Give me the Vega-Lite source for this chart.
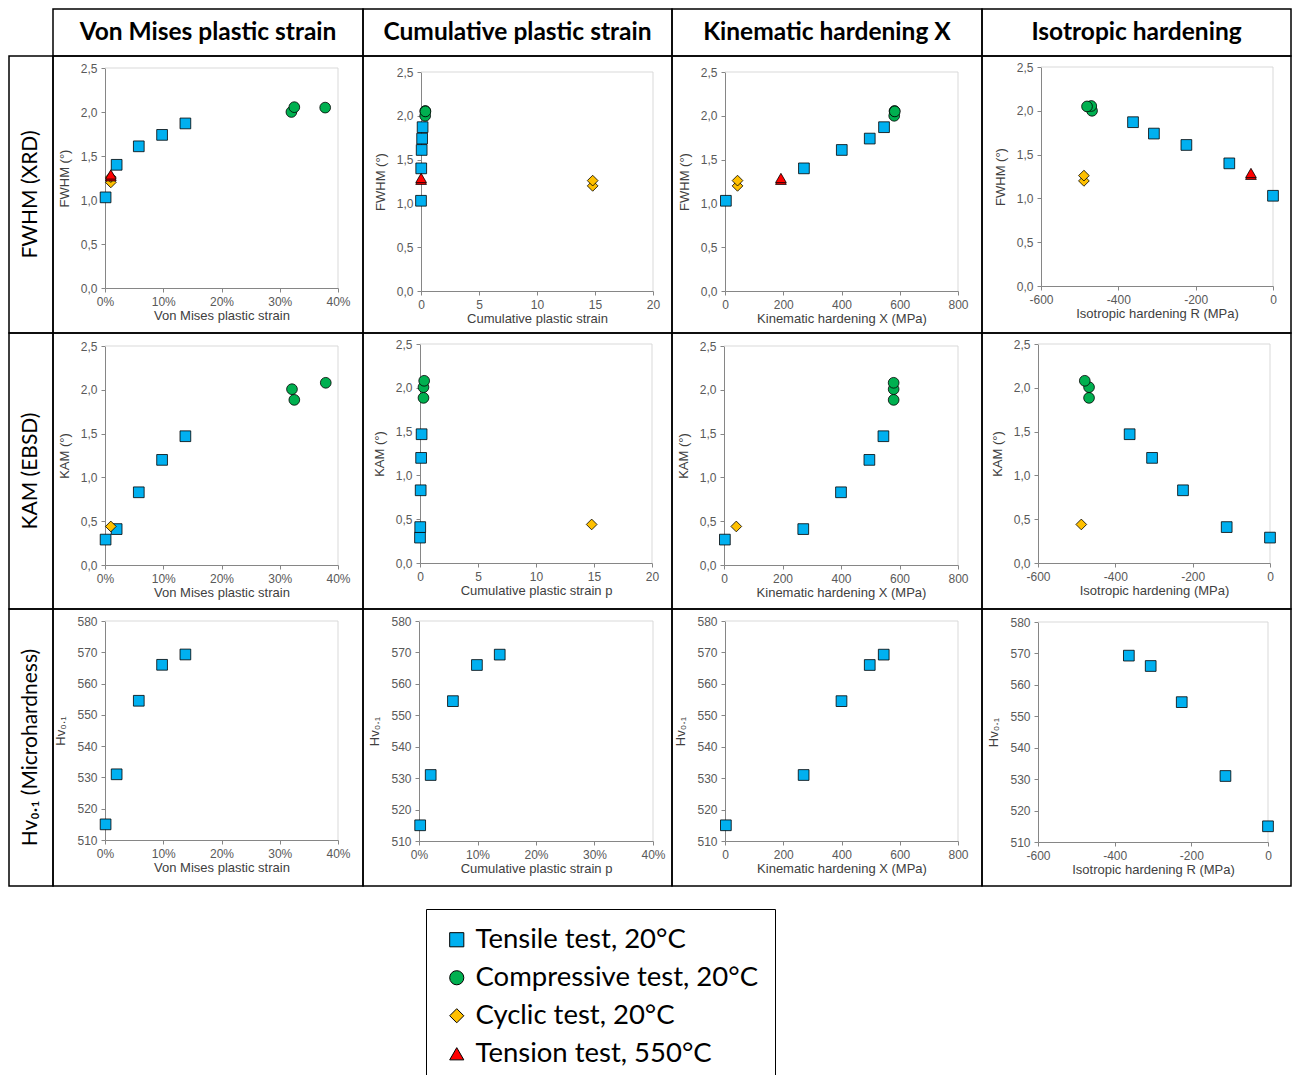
{
  "$schema": "https://vega.github.io/schema/vega-lite/v6.json",
  "background": "white",
  "padding": {"left": 8, "top": 8, "right": 0, "bottom": 0},
  "datasets": {
    "fwhm": [
      {"test": "Tensile test, 20°C", "vm": 0.001, "p": 0.001, "X": 3, "R": 0, "v": 1.03},
      {"test": "Tensile test, 20°C", "vm": 0.02, "p": 0.02, "X": 271, "R": -113, "v": 1.40},
      {"test": "Tensile test, 20°C", "vm": 0.058, "p": 0.058, "X": 401, "R": -224, "v": 1.61},
      {"test": "Tensile test, 20°C", "vm": 0.098, "p": 0.098, "X": 497, "R": -308, "v": 1.74},
      {"test": "Tensile test, 20°C", "vm": 0.138, "p": 0.138, "X": 546, "R": -362, "v": 1.87},
      {"test": "Compressive test, 20°C", "vm": 0.32, "p": 0.36, "X": 581, "R": -468, "v": 2.0},
      {"test": "Compressive test, 20°C", "vm": 0.325, "p": 0.37, "X": 582, "R": -470, "v": 2.055},
      {"test": "Compressive test, 20°C", "vm": 0.378, "p": 0.38, "X": 583, "R": -481, "v": 2.05},
      {"test": "Cyclic test, 20°C", "vm": 0.01, "p": 14.8, "X": 43, "R": -489, "v": 1.2},
      {"test": "Cyclic test, 20°C", "vm": 0.01, "p": 14.8, "X": 43, "R": -489, "v": 1.26},
      {"test": "Tension test, 550°C", "vm": 0.01, "p": 0.01, "X": 192, "R": -57, "v": 1.27},
      {"test": "Tension test, 550°C", "vm": 0.01, "p": 0.01, "X": 192, "R": -57, "v": 1.29}
    ],
    "kam": [
      {"test": "Tensile test, 20°C", "vm": 0.001, "p": 0.001, "X": 3, "R": 0, "v": 0.29},
      {"test": "Tensile test, 20°C", "vm": 0.02, "p": 0.02, "X": 271, "R": -112, "v": 0.41},
      {"test": "Tensile test, 20°C", "vm": 0.058, "p": 0.058, "X": 400, "R": -225, "v": 0.83},
      {"test": "Tensile test, 20°C", "vm": 0.098, "p": 0.098, "X": 497, "R": -305, "v": 1.20},
      {"test": "Tensile test, 20°C", "vm": 0.138, "p": 0.138, "X": 545, "R": -363, "v": 1.47},
      {"test": "Compressive test, 20°C", "vm": 0.321, "p": 0.3, "X": 580, "R": -468, "v": 2.007},
      {"test": "Compressive test, 20°C", "vm": 0.325, "p": 0.3, "X": 580, "R": -468, "v": 1.885},
      {"test": "Compressive test, 20°C", "vm": 0.379, "p": 0.36, "X": 580, "R": -479, "v": 2.08},
      {"test": "Cyclic test, 20°C", "vm": 0.01, "p": 14.8, "X": 42, "R": -488, "v": 0.44}
    ],
    "hv": [
      {"test": "Tensile test, 20°C", "vm": 0.001, "p": 0.002, "X": 3, "R": 0, "v": 515},
      {"test": "Tensile test, 20°C", "vm": 0.02, "p": 0.02, "X": 270, "R": -111, "v": 531},
      {"test": "Tensile test, 20°C", "vm": 0.058, "p": 0.058, "X": 400, "R": -225, "v": 554.5},
      {"test": "Tensile test, 20°C", "vm": 0.098, "p": 0.099, "X": 497, "R": -306, "v": 566},
      {"test": "Tensile test, 20°C", "vm": 0.138, "p": 0.138, "X": 545, "R": -363, "v": 569.3}
    ]
  },
  "columns": 5,
  "spacing": 0,
  "bounds": "flush",
  "align": "each",
  "concat": [
    {"width": 44, "height": 47, "view": {"stroke": null}, "data": {"values": [{}]}, "mark": {"type": "text"}, "encoding": {"text": {"value": ""}}},
    {"width": 310, "height": 47, "view": {"stroke": "black", "strokeWidth": 1.5}, "data": {"values": [{"t": "Von Mises plastic strain"}]}, "mark": {"type": "text", "font": "Lato", "fontSize": 24.5, "fontWeight": "bold", "color": "black"}, "encoding": {"text": {"field": "t", "type": "nominal"}}},
    {"width": 309, "height": 47, "view": {"stroke": "black", "strokeWidth": 1.5}, "data": {"values": [{"t": "Cumulative plastic strain"}]}, "mark": {"type": "text", "font": "Lato", "fontSize": 24.5, "fontWeight": "bold", "color": "black"}, "encoding": {"text": {"field": "t", "type": "nominal"}}},
    {"width": 310, "height": 47, "view": {"stroke": "black", "strokeWidth": 1.5}, "data": {"values": [{"t": "Kinematic hardening X"}]}, "mark": {"type": "text", "font": "Lato", "fontSize": 24.5, "fontWeight": "bold", "color": "black"}, "encoding": {"text": {"field": "t", "type": "nominal"}}},
    {"width": 309, "height": 47, "view": {"stroke": "black", "strokeWidth": 1.5}, "data": {"values": [{"t": "Isotropic hardening"}]}, "mark": {"type": "text", "font": "Lato", "fontSize": 24.5, "fontWeight": "bold", "color": "black"}, "encoding": {"text": {"field": "t", "type": "nominal"}}},

    {"width": 44, "height": 277, "view": {"stroke": "black", "strokeWidth": 1.5}, "data": {"values": [{"t": "FWHM (XRD)"}]}, "mark": {"type": "text", "font": "Lato", "fontSize": 21, "angle": 270, "color": "black"}, "encoding": {"text": {"field": "t", "type": "nominal"}}},
    {"width": 310, "height": 277, "view": {"stroke": "black", "strokeWidth": 1.5},
     "layer": [
      {"data": {"values": [{}]}, "mark": {"type": "rule", "color": "#d9d9d9"}, "encoding": {"x": {"datum": 0, "type": "quantitative"}, "x2": {"datum": 0.4}, "y": {"datum": 2.5, "type": "quantitative"}}},
      {"data": {"values": [{}]}, "mark": {"type": "rule", "color": "#d9d9d9"}, "encoding": {"x": {"datum": 0.4, "type": "quantitative"}, "y": {"datum": 0, "type": "quantitative"}, "y2": {"datum": 2.5}}},
      {"data": {"name": "fwhm"}, "mark": {"type": "point", "filled": true, "opacity": 1, "size": 115, "stroke": "black", "strokeWidth": 0.8},
       "encoding": {
        "x": {"field": "vm", "type": "quantitative", "scale": {"domain": [0, 0.4], "range": [52, 285], "nice": false, "zero": false}, "axis": {"orient": "bottom", "offset": -45, "labelOverlap": false, "tickCount": 20, "values": [0, 0.1, 0.2, 0.3, 0.4], "labelExpr": "format(datum.value, '.0%')", "title": "Von Mises plastic strain"}},
        "y": {"field": "v", "type": "quantitative", "scale": {"domain": [0, 2.5], "range": [232, 12], "nice": false, "zero": false}, "axis": {"orient": "left", "offset": -52, "labelOverlap": false, "tickCount": 20, "values": [0, 0.5, 1, 1.5, 2, 2.5], "labelExpr": "replace(format(datum.value, '.1f'), '.', ',')", "title": "FWHM (°)"}},
        "fill": {"field": "test", "type": "nominal", "scale": {"domain": ["Tensile test, 20°C", "Compressive test, 20°C", "Cyclic test, 20°C", "Tension test, 550°C"], "range": ["#00B0F0", "#00B050", "#FFC000", "#FF0000"]}, "legend": {"title": null, "encode": {"symbols": {"update": {"stroke": {"value": "black"}, "strokeWidth": {"value": 1}}}}}},
        "shape": {"field": "test", "type": "nominal", "scale": {"domain": ["Tensile test, 20°C", "Compressive test, 20°C", "Cyclic test, 20°C", "Tension test, 550°C"], "range": ["square", "circle", "diamond", "triangle-up"]}, "legend": {"title": null, "encode": {"symbols": {"update": {"stroke": {"value": "black"}, "strokeWidth": {"value": 1}}}}}}
       }}
     ]},
    {"width": 309, "height": 277, "view": {"stroke": "black", "strokeWidth": 1.5},
     "layer": [
      {"data": {"values": [{}]}, "mark": {"type": "rule", "color": "#d9d9d9"}, "encoding": {"x": {"datum": 0, "type": "quantitative"}, "x2": {"datum": 20}, "y": {"datum": 2.5, "type": "quantitative"}}},
      {"data": {"values": [{}]}, "mark": {"type": "rule", "color": "#d9d9d9"}, "encoding": {"x": {"datum": 20, "type": "quantitative"}, "y": {"datum": 0, "type": "quantitative"}, "y2": {"datum": 2.5}}},
      {"data": {"name": "fwhm"}, "mark": {"type": "point", "filled": true, "opacity": 1, "size": 115, "stroke": "black", "strokeWidth": 0.8},
       "encoding": {
        "x": {"field": "p", "type": "quantitative", "scale": {"domain": [0, 20], "range": [58, 290], "nice": false, "zero": false}, "axis": {"orient": "bottom", "offset": -42, "labelOverlap": false, "tickCount": 20, "values": [0, 5, 10, 15, 20], "labelExpr": "'' + datum.value", "title": "Cumulative plastic strain"}},
        "y": {"field": "v", "type": "quantitative", "scale": {"domain": [0, 2.5], "range": [235, 16], "nice": false, "zero": false}, "axis": {"orient": "left", "offset": -58, "labelOverlap": false, "tickCount": 20, "values": [0, 0.5, 1, 1.5, 2, 2.5], "labelExpr": "replace(format(datum.value, '.1f'), '.', ',')", "title": "FWHM (°)"}},
        "fill": {"field": "test", "type": "nominal", "scale": {"domain": ["Tensile test, 20°C", "Compressive test, 20°C", "Cyclic test, 20°C", "Tension test, 550°C"], "range": ["#00B0F0", "#00B050", "#FFC000", "#FF0000"]}, "legend": {"title": null, "encode": {"symbols": {"update": {"stroke": {"value": "black"}, "strokeWidth": {"value": 1}}}}}},
        "shape": {"field": "test", "type": "nominal", "scale": {"domain": ["Tensile test, 20°C", "Compressive test, 20°C", "Cyclic test, 20°C", "Tension test, 550°C"], "range": ["square", "circle", "diamond", "triangle-up"]}, "legend": {"title": null, "encode": {"symbols": {"update": {"stroke": {"value": "black"}, "strokeWidth": {"value": 1}}}}}}
       }}
     ]},
    {"width": 310, "height": 277, "view": {"stroke": "black", "strokeWidth": 1.5},
     "layer": [
      {"data": {"values": [{}]}, "mark": {"type": "rule", "color": "#d9d9d9"}, "encoding": {"x": {"datum": 0, "type": "quantitative"}, "x2": {"datum": 800}, "y": {"datum": 2.5, "type": "quantitative"}}},
      {"data": {"values": [{}]}, "mark": {"type": "rule", "color": "#d9d9d9"}, "encoding": {"x": {"datum": 800, "type": "quantitative"}, "y": {"datum": 0, "type": "quantitative"}, "y2": {"datum": 2.5}}},
      {"data": {"name": "fwhm"}, "mark": {"type": "point", "filled": true, "opacity": 1, "size": 115, "stroke": "black", "strokeWidth": 0.8},
       "encoding": {
        "x": {"field": "X", "type": "quantitative", "scale": {"domain": [0, 800], "range": [53, 286], "nice": false, "zero": false}, "axis": {"orient": "bottom", "offset": -42, "labelOverlap": false, "tickCount": 20, "values": [0, 200, 400, 600, 800], "labelExpr": "'' + datum.value", "title": "Kinematic hardening X (MPa)"}},
        "y": {"field": "v", "type": "quantitative", "scale": {"domain": [0, 2.5], "range": [235, 16], "nice": false, "zero": false}, "axis": {"orient": "left", "offset": -53, "labelOverlap": false, "tickCount": 20, "values": [0, 0.5, 1, 1.5, 2, 2.5], "labelExpr": "replace(format(datum.value, '.1f'), '.', ',')", "title": "FWHM (°)"}},
        "fill": {"field": "test", "type": "nominal", "scale": {"domain": ["Tensile test, 20°C", "Compressive test, 20°C", "Cyclic test, 20°C", "Tension test, 550°C"], "range": ["#00B0F0", "#00B050", "#FFC000", "#FF0000"]}, "legend": {"title": null, "encode": {"symbols": {"update": {"stroke": {"value": "black"}, "strokeWidth": {"value": 1}}}}}},
        "shape": {"field": "test", "type": "nominal", "scale": {"domain": ["Tensile test, 20°C", "Compressive test, 20°C", "Cyclic test, 20°C", "Tension test, 550°C"], "range": ["square", "circle", "diamond", "triangle-up"]}, "legend": {"title": null, "encode": {"symbols": {"update": {"stroke": {"value": "black"}, "strokeWidth": {"value": 1}}}}}}
       }}
     ]},
    {"width": 309, "height": 277, "view": {"stroke": "black", "strokeWidth": 1.5},
     "layer": [
      {"data": {"values": [{}]}, "mark": {"type": "rule", "color": "#d9d9d9"}, "encoding": {"x": {"datum": -600, "type": "quantitative"}, "x2": {"datum": 0}, "y": {"datum": 2.5, "type": "quantitative"}}},
      {"data": {"values": [{}]}, "mark": {"type": "rule", "color": "#d9d9d9"}, "encoding": {"x": {"datum": 0, "type": "quantitative"}, "y": {"datum": 0, "type": "quantitative"}, "y2": {"datum": 2.5}}},
      {"data": {"name": "fwhm"}, "mark": {"type": "point", "filled": true, "opacity": 1, "size": 115, "stroke": "black", "strokeWidth": 0.8},
       "encoding": {
        "x": {"field": "R", "type": "quantitative", "scale": {"domain": [-600, 0], "range": [59, 291], "nice": false, "zero": false}, "axis": {"orient": "bottom", "offset": -47, "labelOverlap": false, "tickCount": 20, "values": [-600, -400, -200, 0], "labelExpr": "'' + datum.value", "title": "Isotropic hardening R (MPa)"}},
        "y": {"field": "v", "type": "quantitative", "scale": {"domain": [0, 2.5], "range": [230, 11], "nice": false, "zero": false}, "axis": {"orient": "left", "offset": -59, "labelOverlap": false, "tickCount": 20, "values": [0, 0.5, 1, 1.5, 2, 2.5], "labelExpr": "replace(format(datum.value, '.1f'), '.', ',')", "title": "FWHM (°)"}},
        "fill": {"field": "test", "type": "nominal", "scale": {"domain": ["Tensile test, 20°C", "Compressive test, 20°C", "Cyclic test, 20°C", "Tension test, 550°C"], "range": ["#00B0F0", "#00B050", "#FFC000", "#FF0000"]}, "legend": {"title": null, "encode": {"symbols": {"update": {"stroke": {"value": "black"}, "strokeWidth": {"value": 1}}}}}},
        "shape": {"field": "test", "type": "nominal", "scale": {"domain": ["Tensile test, 20°C", "Compressive test, 20°C", "Cyclic test, 20°C", "Tension test, 550°C"], "range": ["square", "circle", "diamond", "triangle-up"]}, "legend": {"title": null, "encode": {"symbols": {"update": {"stroke": {"value": "black"}, "strokeWidth": {"value": 1}}}}}}
       }}
     ]},

    {"width": 44, "height": 276, "view": {"stroke": "black", "strokeWidth": 1.5}, "data": {"values": [{"t": "KAM (EBSD)"}]}, "mark": {"type": "text", "font": "Lato", "fontSize": 21, "angle": 270, "color": "black"}, "encoding": {"text": {"field": "t", "type": "nominal"}}},
    {"width": 310, "height": 276, "view": {"stroke": "black", "strokeWidth": 1.5},
     "layer": [
      {"data": {"values": [{}]}, "mark": {"type": "rule", "color": "#d9d9d9"}, "encoding": {"x": {"datum": 0, "type": "quantitative"}, "x2": {"datum": 0.4}, "y": {"datum": 2.5, "type": "quantitative"}}},
      {"data": {"values": [{}]}, "mark": {"type": "rule", "color": "#d9d9d9"}, "encoding": {"x": {"datum": 0.4, "type": "quantitative"}, "y": {"datum": 0, "type": "quantitative"}, "y2": {"datum": 2.5}}},
      {"data": {"name": "kam"}, "mark": {"type": "point", "filled": true, "opacity": 1, "size": 115, "stroke": "black", "strokeWidth": 0.8},
       "encoding": {
        "x": {"field": "vm", "type": "quantitative", "scale": {"domain": [0, 0.4], "range": [52, 285], "nice": false, "zero": false}, "axis": {"orient": "bottom", "offset": -44, "labelOverlap": false, "tickCount": 20, "values": [0, 0.1, 0.2, 0.3, 0.4], "labelExpr": "format(datum.value, '.0%')", "title": "Von Mises plastic strain"}},
        "y": {"field": "v", "type": "quantitative", "scale": {"domain": [0, 2.5], "range": [232, 13], "nice": false, "zero": false}, "axis": {"orient": "left", "offset": -52, "labelOverlap": false, "tickCount": 20, "values": [0, 0.5, 1, 1.5, 2, 2.5], "labelExpr": "replace(format(datum.value, '.1f'), '.', ',')", "title": "KAM (°)"}},
        "fill": {"field": "test", "type": "nominal", "scale": {"domain": ["Tensile test, 20°C", "Compressive test, 20°C", "Cyclic test, 20°C", "Tension test, 550°C"], "range": ["#00B0F0", "#00B050", "#FFC000", "#FF0000"]}, "legend": {"title": null, "encode": {"symbols": {"update": {"stroke": {"value": "black"}, "strokeWidth": {"value": 1}}}}}},
        "shape": {"field": "test", "type": "nominal", "scale": {"domain": ["Tensile test, 20°C", "Compressive test, 20°C", "Cyclic test, 20°C", "Tension test, 550°C"], "range": ["square", "circle", "diamond", "triangle-up"]}, "legend": {"title": null, "encode": {"symbols": {"update": {"stroke": {"value": "black"}, "strokeWidth": {"value": 1}}}}}}
       }}
     ]},
    {"width": 309, "height": 276, "view": {"stroke": "black", "strokeWidth": 1.5},
     "layer": [
      {"data": {"values": [{}]}, "mark": {"type": "rule", "color": "#d9d9d9"}, "encoding": {"x": {"datum": 0, "type": "quantitative"}, "x2": {"datum": 20}, "y": {"datum": 2.5, "type": "quantitative"}}},
      {"data": {"values": [{}]}, "mark": {"type": "rule", "color": "#d9d9d9"}, "encoding": {"x": {"datum": 20, "type": "quantitative"}, "y": {"datum": 0, "type": "quantitative"}, "y2": {"datum": 2.5}}},
      {"data": {"name": "kam"}, "mark": {"type": "point", "filled": true, "opacity": 1, "size": 115, "stroke": "black", "strokeWidth": 0.8},
       "encoding": {
        "x": {"field": "p", "type": "quantitative", "scale": {"domain": [0, 20], "range": [57, 289], "nice": false, "zero": false}, "axis": {"orient": "bottom", "offset": -46, "labelOverlap": false, "tickCount": 20, "values": [0, 5, 10, 15, 20], "labelExpr": "'' + datum.value", "title": "Cumulative plastic strain p"}},
        "y": {"field": "v", "type": "quantitative", "scale": {"domain": [0, 2.5], "range": [230, 11], "nice": false, "zero": false}, "axis": {"orient": "left", "offset": -57, "labelOverlap": false, "tickCount": 20, "values": [0, 0.5, 1, 1.5, 2, 2.5], "labelExpr": "replace(format(datum.value, '.1f'), '.', ',')", "title": "KAM (°)"}},
        "fill": {"field": "test", "type": "nominal", "scale": {"domain": ["Tensile test, 20°C", "Compressive test, 20°C", "Cyclic test, 20°C", "Tension test, 550°C"], "range": ["#00B0F0", "#00B050", "#FFC000", "#FF0000"]}, "legend": {"title": null, "encode": {"symbols": {"update": {"stroke": {"value": "black"}, "strokeWidth": {"value": 1}}}}}},
        "shape": {"field": "test", "type": "nominal", "scale": {"domain": ["Tensile test, 20°C", "Compressive test, 20°C", "Cyclic test, 20°C", "Tension test, 550°C"], "range": ["square", "circle", "diamond", "triangle-up"]}, "legend": {"title": null, "encode": {"symbols": {"update": {"stroke": {"value": "black"}, "strokeWidth": {"value": 1}}}}}}
       }}
     ]},
    {"width": 310, "height": 276, "view": {"stroke": "black", "strokeWidth": 1.5},
     "layer": [
      {"data": {"values": [{}]}, "mark": {"type": "rule", "color": "#d9d9d9"}, "encoding": {"x": {"datum": 0, "type": "quantitative"}, "x2": {"datum": 800}, "y": {"datum": 2.5, "type": "quantitative"}}},
      {"data": {"values": [{}]}, "mark": {"type": "rule", "color": "#d9d9d9"}, "encoding": {"x": {"datum": 800, "type": "quantitative"}, "y": {"datum": 0, "type": "quantitative"}, "y2": {"datum": 2.5}}},
      {"data": {"name": "kam"}, "mark": {"type": "point", "filled": true, "opacity": 1, "size": 115, "stroke": "black", "strokeWidth": 0.8},
       "encoding": {
        "x": {"field": "X", "type": "quantitative", "scale": {"domain": [0, 800], "range": [52, 286], "nice": false, "zero": false}, "axis": {"orient": "bottom", "offset": -44, "labelOverlap": false, "tickCount": 20, "values": [0, 200, 400, 600, 800], "labelExpr": "'' + datum.value", "title": "Kinematic hardening X (MPa)"}},
        "y": {"field": "v", "type": "quantitative", "scale": {"domain": [0, 2.5], "range": [232, 13], "nice": false, "zero": false}, "axis": {"orient": "left", "offset": -52, "labelOverlap": false, "tickCount": 20, "values": [0, 0.5, 1, 1.5, 2, 2.5], "labelExpr": "replace(format(datum.value, '.1f'), '.', ',')", "title": "KAM (°)"}},
        "fill": {"field": "test", "type": "nominal", "scale": {"domain": ["Tensile test, 20°C", "Compressive test, 20°C", "Cyclic test, 20°C", "Tension test, 550°C"], "range": ["#00B0F0", "#00B050", "#FFC000", "#FF0000"]}, "legend": {"title": null, "encode": {"symbols": {"update": {"stroke": {"value": "black"}, "strokeWidth": {"value": 1}}}}}},
        "shape": {"field": "test", "type": "nominal", "scale": {"domain": ["Tensile test, 20°C", "Compressive test, 20°C", "Cyclic test, 20°C", "Tension test, 550°C"], "range": ["square", "circle", "diamond", "triangle-up"]}, "legend": {"title": null, "encode": {"symbols": {"update": {"stroke": {"value": "black"}, "strokeWidth": {"value": 1}}}}}}
       }}
     ]},
    {"width": 309, "height": 276, "view": {"stroke": "black", "strokeWidth": 1.5},
     "layer": [
      {"data": {"values": [{}]}, "mark": {"type": "rule", "color": "#d9d9d9"}, "encoding": {"x": {"datum": -600, "type": "quantitative"}, "x2": {"datum": 0}, "y": {"datum": 2.5, "type": "quantitative"}}},
      {"data": {"values": [{}]}, "mark": {"type": "rule", "color": "#d9d9d9"}, "encoding": {"x": {"datum": 0, "type": "quantitative"}, "y": {"datum": 0, "type": "quantitative"}, "y2": {"datum": 2.5}}},
      {"data": {"name": "kam"}, "mark": {"type": "point", "filled": true, "opacity": 1, "size": 115, "stroke": "black", "strokeWidth": 0.8},
       "encoding": {
        "x": {"field": "R", "type": "quantitative", "scale": {"domain": [-600, 0], "range": [56, 288], "nice": false, "zero": false}, "axis": {"orient": "bottom", "offset": -46, "labelOverlap": false, "tickCount": 20, "values": [-600, -400, -200, 0], "labelExpr": "'' + datum.value", "title": "Isotropic hardening (MPa)"}},
        "y": {"field": "v", "type": "quantitative", "scale": {"domain": [0, 2.5], "range": [230, 11], "nice": false, "zero": false}, "axis": {"orient": "left", "offset": -56, "labelOverlap": false, "tickCount": 20, "values": [0, 0.5, 1, 1.5, 2, 2.5], "labelExpr": "replace(format(datum.value, '.1f'), '.', ',')", "title": "KAM (°)"}},
        "fill": {"field": "test", "type": "nominal", "scale": {"domain": ["Tensile test, 20°C", "Compressive test, 20°C", "Cyclic test, 20°C", "Tension test, 550°C"], "range": ["#00B0F0", "#00B050", "#FFC000", "#FF0000"]}, "legend": {"title": null, "encode": {"symbols": {"update": {"stroke": {"value": "black"}, "strokeWidth": {"value": 1}}}}}},
        "shape": {"field": "test", "type": "nominal", "scale": {"domain": ["Tensile test, 20°C", "Compressive test, 20°C", "Cyclic test, 20°C", "Tension test, 550°C"], "range": ["square", "circle", "diamond", "triangle-up"]}, "legend": {"title": null, "encode": {"symbols": {"update": {"stroke": {"value": "black"}, "strokeWidth": {"value": 1}}}}}}
       }}
     ]},

    {"width": 44, "height": 277, "view": {"stroke": "black", "strokeWidth": 1.5}, "data": {"values": [{"t": "Hv₀.₁ (Microhardness)"}]}, "mark": {"type": "text", "font": "Lato", "fontSize": 21, "angle": 270, "color": "black"}, "encoding": {"text": {"field": "t", "type": "nominal"}}},
    {"width": 310, "height": 277, "view": {"stroke": "black", "strokeWidth": 1.5},
     "layer": [
      {"data": {"values": [{}]}, "mark": {"type": "rule", "color": "#d9d9d9"}, "encoding": {"x": {"datum": 0, "type": "quantitative"}, "x2": {"datum": 0.4}, "y": {"datum": 580, "type": "quantitative"}}},
      {"data": {"values": [{}]}, "mark": {"type": "rule", "color": "#d9d9d9"}, "encoding": {"x": {"datum": 0.4, "type": "quantitative"}, "y": {"datum": 510, "type": "quantitative"}, "y2": {"datum": 580}}},
      {"data": {"name": "hv"}, "mark": {"type": "point", "filled": true, "opacity": 1, "size": 115, "stroke": "black", "strokeWidth": 0.8},
       "encoding": {
        "x": {"field": "vm", "type": "quantitative", "scale": {"domain": [0, 0.4], "range": [52, 285], "nice": false, "zero": false}, "axis": {"orient": "bottom", "offset": -46, "labelOverlap": false, "tickCount": 20, "values": [0, 0.1, 0.2, 0.3, 0.4], "labelExpr": "format(datum.value, '.0%')", "title": "Von Mises plastic strain"}},
        "y": {"field": "v", "type": "quantitative", "scale": {"domain": [510, 580], "range": [231, 12], "nice": false, "zero": false}, "axis": {"orient": "left", "offset": -52, "labelOverlap": false, "tickCount": 20, "values": [510, 520, 530, 540, 550, 560, 570, 580], "labelExpr": "'' + datum.value", "title": "Hv₀.₁"}},
        "fill": {"field": "test", "type": "nominal", "scale": {"domain": ["Tensile test, 20°C", "Compressive test, 20°C", "Cyclic test, 20°C", "Tension test, 550°C"], "range": ["#00B0F0", "#00B050", "#FFC000", "#FF0000"]}, "legend": {"title": null, "encode": {"symbols": {"update": {"stroke": {"value": "black"}, "strokeWidth": {"value": 1}}}}}},
        "shape": {"field": "test", "type": "nominal", "scale": {"domain": ["Tensile test, 20°C", "Compressive test, 20°C", "Cyclic test, 20°C", "Tension test, 550°C"], "range": ["square", "circle", "diamond", "triangle-up"]}, "legend": {"title": null, "encode": {"symbols": {"update": {"stroke": {"value": "black"}, "strokeWidth": {"value": 1}}}}}}
       }}
     ]},
    {"width": 309, "height": 277, "view": {"stroke": "black", "strokeWidth": 1.5},
     "layer": [
      {"data": {"values": [{}]}, "mark": {"type": "rule", "color": "#d9d9d9"}, "encoding": {"x": {"datum": 0, "type": "quantitative"}, "x2": {"datum": 0.4}, "y": {"datum": 580, "type": "quantitative"}}},
      {"data": {"values": [{}]}, "mark": {"type": "rule", "color": "#d9d9d9"}, "encoding": {"x": {"datum": 0.4, "type": "quantitative"}, "y": {"datum": 510, "type": "quantitative"}, "y2": {"datum": 580}}},
      {"data": {"name": "hv"}, "mark": {"type": "point", "filled": true, "opacity": 1, "size": 115, "stroke": "black", "strokeWidth": 0.8},
       "encoding": {
        "x": {"field": "p", "type": "quantitative", "scale": {"domain": [0, 0.4], "range": [56, 290], "nice": false, "zero": false}, "axis": {"orient": "bottom", "offset": -45, "labelOverlap": false, "tickCount": 20, "values": [0, 0.1, 0.2, 0.3, 0.4], "labelExpr": "format(datum.value, '.0%')", "title": "Cumulative plastic strain p"}},
        "y": {"field": "v", "type": "quantitative", "scale": {"domain": [510, 580], "range": [232, 12], "nice": false, "zero": false}, "axis": {"orient": "left", "offset": -56, "labelOverlap": false, "tickCount": 20, "values": [510, 520, 530, 540, 550, 560, 570, 580], "labelExpr": "'' + datum.value", "title": "Hv₀.₁"}},
        "fill": {"field": "test", "type": "nominal", "scale": {"domain": ["Tensile test, 20°C", "Compressive test, 20°C", "Cyclic test, 20°C", "Tension test, 550°C"], "range": ["#00B0F0", "#00B050", "#FFC000", "#FF0000"]}, "legend": {"title": null, "encode": {"symbols": {"update": {"stroke": {"value": "black"}, "strokeWidth": {"value": 1}}}}}},
        "shape": {"field": "test", "type": "nominal", "scale": {"domain": ["Tensile test, 20°C", "Compressive test, 20°C", "Cyclic test, 20°C", "Tension test, 550°C"], "range": ["square", "circle", "diamond", "triangle-up"]}, "legend": {"title": null, "encode": {"symbols": {"update": {"stroke": {"value": "black"}, "strokeWidth": {"value": 1}}}}}}
       }}
     ]},
    {"width": 310, "height": 277, "view": {"stroke": "black", "strokeWidth": 1.5},
     "layer": [
      {"data": {"values": [{}]}, "mark": {"type": "rule", "color": "#d9d9d9"}, "encoding": {"x": {"datum": 0, "type": "quantitative"}, "x2": {"datum": 800}, "y": {"datum": 580, "type": "quantitative"}}},
      {"data": {"values": [{}]}, "mark": {"type": "rule", "color": "#d9d9d9"}, "encoding": {"x": {"datum": 800, "type": "quantitative"}, "y": {"datum": 510, "type": "quantitative"}, "y2": {"datum": 580}}},
      {"data": {"name": "hv"}, "mark": {"type": "point", "filled": true, "opacity": 1, "size": 115, "stroke": "black", "strokeWidth": 0.8},
       "encoding": {
        "x": {"field": "X", "type": "quantitative", "scale": {"domain": [0, 800], "range": [53, 286], "nice": false, "zero": false}, "axis": {"orient": "bottom", "offset": -45, "labelOverlap": false, "tickCount": 20, "values": [0, 200, 400, 600, 800], "labelExpr": "'' + datum.value", "title": "Kinematic hardening X (MPa)"}},
        "y": {"field": "v", "type": "quantitative", "scale": {"domain": [510, 580], "range": [232, 12], "nice": false, "zero": false}, "axis": {"orient": "left", "offset": -53, "labelOverlap": false, "tickCount": 20, "values": [510, 520, 530, 540, 550, 560, 570, 580], "labelExpr": "'' + datum.value", "title": "Hv₀.₁"}},
        "fill": {"field": "test", "type": "nominal", "scale": {"domain": ["Tensile test, 20°C", "Compressive test, 20°C", "Cyclic test, 20°C", "Tension test, 550°C"], "range": ["#00B0F0", "#00B050", "#FFC000", "#FF0000"]}, "legend": {"title": null, "encode": {"symbols": {"update": {"stroke": {"value": "black"}, "strokeWidth": {"value": 1}}}}}},
        "shape": {"field": "test", "type": "nominal", "scale": {"domain": ["Tensile test, 20°C", "Compressive test, 20°C", "Cyclic test, 20°C", "Tension test, 550°C"], "range": ["square", "circle", "diamond", "triangle-up"]}, "legend": {"title": null, "encode": {"symbols": {"update": {"stroke": {"value": "black"}, "strokeWidth": {"value": 1}}}}}}
       }}
     ]},
    {"width": 309, "height": 277, "view": {"stroke": "black", "strokeWidth": 1.5},
     "layer": [
      {"data": {"values": [{}]}, "mark": {"type": "rule", "color": "#d9d9d9"}, "encoding": {"x": {"datum": -600, "type": "quantitative"}, "x2": {"datum": 0}, "y": {"datum": 580, "type": "quantitative"}}},
      {"data": {"values": [{}]}, "mark": {"type": "rule", "color": "#d9d9d9"}, "encoding": {"x": {"datum": 0, "type": "quantitative"}, "y": {"datum": 510, "type": "quantitative"}, "y2": {"datum": 580}}},
      {"data": {"name": "hv"}, "mark": {"type": "point", "filled": true, "opacity": 1, "size": 115, "stroke": "black", "strokeWidth": 0.8},
       "encoding": {
        "x": {"field": "R", "type": "quantitative", "scale": {"domain": [-600, 0], "range": [56, 286], "nice": false, "zero": false}, "axis": {"orient": "bottom", "offset": -44, "labelOverlap": false, "tickCount": 20, "values": [-600, -400, -200, 0], "labelExpr": "'' + datum.value", "title": "Isotropic hardening R (MPa)"}},
        "y": {"field": "v", "type": "quantitative", "scale": {"domain": [510, 580], "range": [233, 13], "nice": false, "zero": false}, "axis": {"orient": "left", "offset": -56, "labelOverlap": false, "tickCount": 20, "values": [510, 520, 530, 540, 550, 560, 570, 580], "labelExpr": "'' + datum.value", "title": "Hv₀.₁"}},
        "fill": {"field": "test", "type": "nominal", "scale": {"domain": ["Tensile test, 20°C", "Compressive test, 20°C", "Cyclic test, 20°C", "Tension test, 550°C"], "range": ["#00B0F0", "#00B050", "#FFC000", "#FF0000"]}, "legend": {"title": null, "encode": {"symbols": {"update": {"stroke": {"value": "black"}, "strokeWidth": {"value": 1}}}}}},
        "shape": {"field": "test", "type": "nominal", "scale": {"domain": ["Tensile test, 20°C", "Compressive test, 20°C", "Cyclic test, 20°C", "Tension test, 550°C"], "range": ["square", "circle", "diamond", "triangle-up"]}, "legend": {"title": null, "encode": {"symbols": {"update": {"stroke": {"value": "black"}, "strokeWidth": {"value": 1}}}}}}
       }}
     ]}
  ],
  "config": {
    "font": "Liberation Sans",
    "axis": {
      "grid": false,
      "labelFont": "Liberation Sans",
      "labelFontSize": 12,
      "labelColor": "#595959",
      "labelOverlap": false,
      "labelFlush": false,
      "titleFont": "Liberation Sans",
      "titleFontSize": 13,
      "titleFontWeight": "normal",
      "titleColor": "#404040",
      "domainColor": "#868686",
      "tickColor": "#868686",
      "tickSize": 4,
      "labelPadding": 4
    },
    "axisX": {"titlePadding": 2},
    "axisY": {"titlePadding": 9},
    "legend": {
      "orient": "none",
      "legendX": 417,
      "legendY": 900,
      "strokeColor": "black",
      "padding": 17,
      "labelFont": "Lato",
      "labelFontSize": 27.5,
      "labelColor": "black",
      "labelLimit": 400,
      "symbolSize": 200,
      "symbolStrokeColor": "black",
      "symbolStrokeWidth": 1,
      "symbolOpacity": 1,
      "rowPadding": 9,
      "labelOffset": 5
    }
  }
}
